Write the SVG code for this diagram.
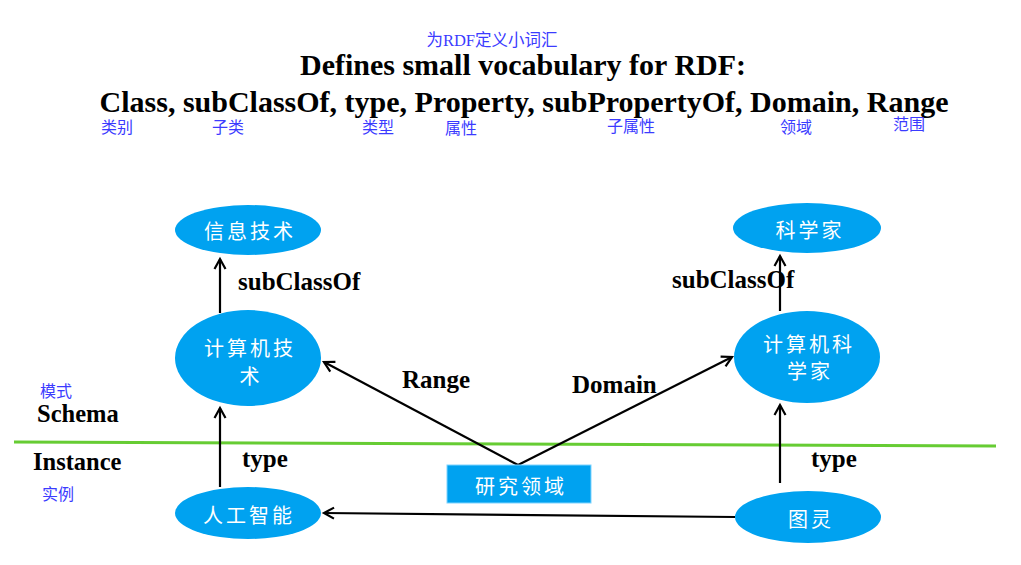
<svg xmlns="http://www.w3.org/2000/svg" width="1021" height="565" viewBox="0 0 1021 565">
<style>
.title{font-family:"Liberation Serif","Noto Serif CJK SC",serif;font-weight:bold;fill:#000;}
.lbl{font-family:"Liberation Serif",serif;font-weight:bold;font-size:25px;fill:#000;}
.cn{font-family:"Liberation Serif","Noto Sans CJK SC",serif;font-size:16px;fill:#3b3bff;}
.node{fill:#00a2f0;}
.nt{font-family:"Noto Sans CJK SC",sans-serif;font-size:20px;fill:#fff;letter-spacing:3px;text-anchor:middle;}
.edge{stroke:#000;stroke-width:2.2;fill:none;marker-end:url(#arr);}
</style>
<defs>
<marker id="arr" markerUnits="userSpaceOnUse" markerWidth="14" markerHeight="14" refX="11" refY="7" orient="auto">
<path d="M1,1.5 L11,7 L1,12.5" fill="none" stroke="#000" stroke-width="2.2"/>
</marker>
</defs>
<rect width="1021" height="565" fill="#fff"/>
<text class="cn" x="492" y="46" text-anchor="middle" style="font-size:16.5px">为RDF定义小词汇</text>
<text class="title" x="523" y="75" text-anchor="middle" font-size="30">Defines small vocabulary for RDF:</text>
<text class="title" x="524" y="112" text-anchor="middle" font-size="30">Class, subClassOf, type, Property, subPropertyOf, Domain, Range</text>
<text class="cn" x="101" y="133">类别</text>
<text class="cn" x="212" y="133">子类</text>
<text class="cn" x="362" y="133">类型</text>
<text class="cn" x="445" y="134">属性</text>
<text class="cn" x="607" y="132">子属性</text>
<text class="cn" x="780" y="133">领域</text>
<text class="cn" x="893" y="130">范围</text>
<text class="cn" x="40" y="397">模式</text>
<text class="lbl" x="37" y="422" style="font-size:24.5px">Schema</text>
<text class="lbl" x="33" y="470" style="font-size:24.5px">Instance</text>
<text class="cn" x="42" y="500">实例</text>
<line x1="14" y1="442" x2="996" y2="446" stroke="#66cc33" stroke-width="3"/>
<g id="connectors">
<line class="edge" x1="220" y1="313" x2="220" y2="259"/>
<line class="edge" x1="220" y1="487" x2="220" y2="408"/>
<line class="edge" x1="780" y1="311" x2="780" y2="256"/>
<line class="edge" x1="780" y1="483" x2="780" y2="405"/>
<line class="edge" x1="518" y1="465" x2="324" y2="362"/>
<line class="edge" x1="518" y1="465" x2="732" y2="357"/>
<line class="edge" x1="735" y1="517" x2="324" y2="513"/>
<text class="lbl" x="238" y="290">subClassOf</text>
<text class="lbl" x="672" y="288">subClassOf</text>
<text class="lbl" x="242" y="467">type</text>
<text class="lbl" x="811" y="467">type</text>
<text class="lbl" x="402" y="388">Range</text>
<text class="lbl" x="572" y="393">Domain</text>
</g>
<g id="n_xinxijishu">
<ellipse class="node" cx="248" cy="230" rx="73" ry="25"/>
<text class="nt" x="250" y="239">信息技术</text>
</g>
<g id="n_jisuanjijishu">
<ellipse class="node" cx="248" cy="358" rx="73" ry="48"/>
<text class="nt" x="250" y="356">计算机技</text>
<text class="nt" x="251" y="384">术</text>
</g>
<g id="n_rengongzhineng">
<ellipse class="node" cx="248" cy="513" rx="73" ry="26"/>
<text class="nt" x="249" y="523">人工智能</text>
</g>
<g id="n_kexuejia">
<ellipse class="node" cx="807" cy="228" rx="74" ry="25"/>
<text class="nt" x="810" y="238">科学家</text>
</g>
<g id="n_jisuanjikexuejia">
<ellipse class="node" cx="807" cy="357" rx="73" ry="46"/>
<text class="nt" x="809" y="352">计算机科</text>
<text class="nt" x="810" y="379">学家</text>
</g>
<g id="n_tuling">
<ellipse class="node" cx="808" cy="517" rx="73" ry="26"/>
<text class="nt" x="811" y="527">图灵</text>
</g>
<g id="n_yanjiulingyu">
<rect class="node" x="447" y="465" width="144" height="38" stroke="#7fd4ff" stroke-width="1"/>
<text class="nt" x="521" y="494">研究领域</text>
</g>
</svg>
